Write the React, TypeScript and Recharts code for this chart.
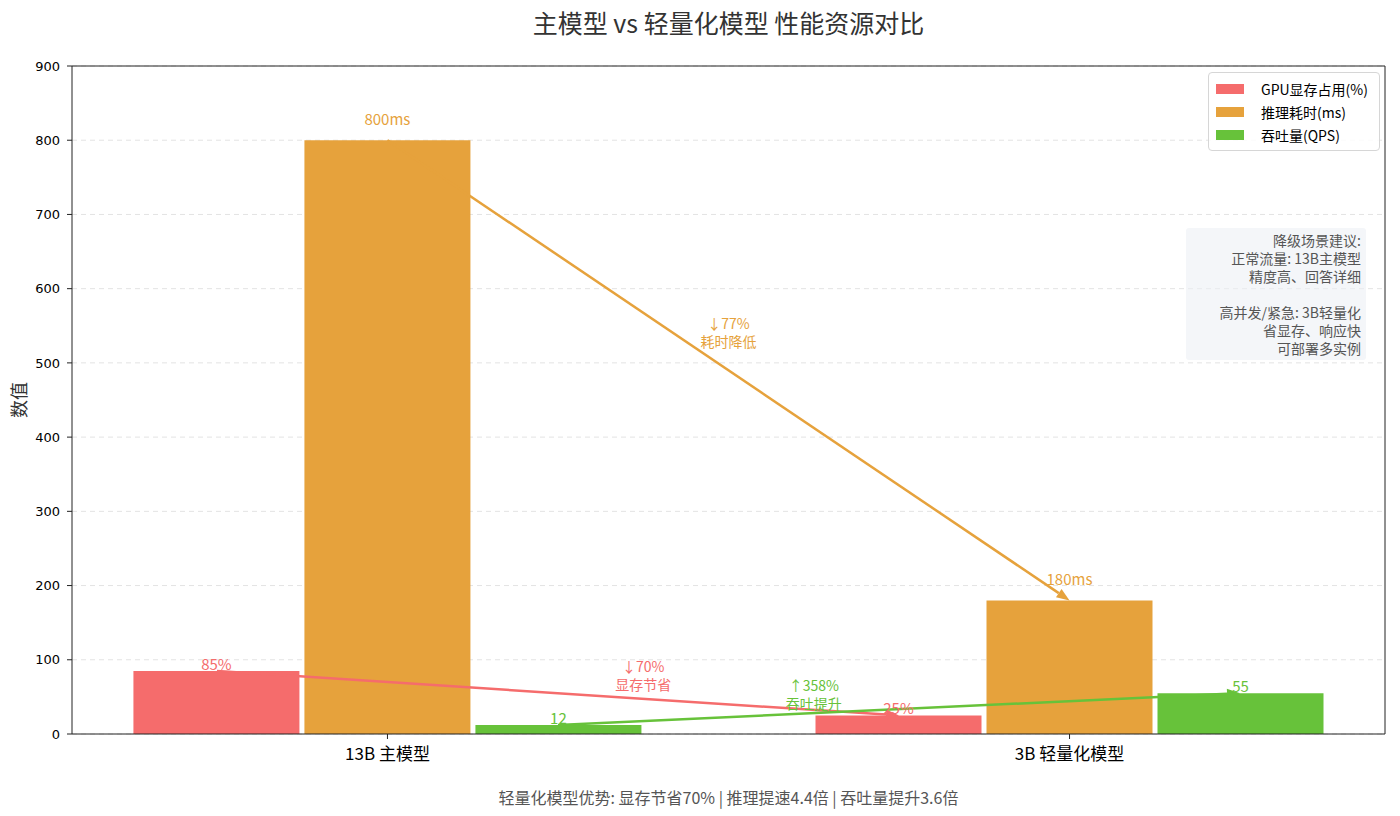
import { ComposedChart, Bar, XAxis, YAxis, CartesianGrid, ReferenceLine, ReferenceDot, LabelList } from 'recharts';

// 数据
const models = ['13B 主模型', '3B 轻量化模型'];
const gpuMem = [85, 25];
const latency = [800, 180];
const qps = [12, 55];
const gpuLabels = ['85%', '25%'];
const latencyLabels = ['800ms', '180ms'];
const qpsLabels = ['12', '55'];
const seriesNames = ['GPU显存占用(%)', '推理耗时(ms)', '吞吐量(QPS)'];
const yTicks = [0, 100, 200, 300, 400, 500, 600, 700, 800, 900];

const arrowNotes = [
  { lines: ['↓70%', '显存节省'], x: 0.375, y: 78, series: 0 },
  { lines: ['↓77%', '耗时降低'], x: 0.5, y: 540, series: 1 },
  { lines: ['↑358%', '吞吐提升'], x: 0.625, y: 52, series: 2 },
];

const adviceLines = ['降级场景建议:', '正常流量: 13B主模型', '精度高、回答详细', '', '高并发/紧急: 3B轻量化', '省显存、响应快', '可部署多实例'];
const title = '主模型 vs 轻量化模型 性能资源对比';
const footNote = '轻量化模型优势: 显存节省70% | 推理提速4.4倍 | 吞吐量提升3.6倍';

const COLORS = ['#f56c6c', '#e6a23c', '#67c23a'];
const FONT = "'Noto Sans CJK SC', sans-serif";
const BAR_W = 0.25; // 每根柱在 x 轴上的宽度（数据单位）
const X_DOMAIN = [-0.4625, 1.4625];

const data = models.map((name, i) => ({
  x: i,
  name,
  gpu: gpuMem[i],
  latency: latency[i],
  qps: qps[i],
}));

const valueLabel = (labels: string[], color: string, lift: number) => (props: any) => {
  const { x, y, width, index } = props;
  return (
    <text x={x + width / 2} y={y - lift} textAnchor="middle" fill={color} fontSize={15} fontFamily={FONT}>
      {labels[index]}
    </text>
  );
};

const arrowShape = (color: string) => (props: any) => {
  const { x1, y1, x2, y2 } = props;
  const ang = Math.atan2(y2 - y1, x2 - x1);
  const c = Math.cos(ang);
  const s = Math.sin(ang);
  const L = 13;
  const W = 5;
  const bx = x2 - L * c;
  const by = y2 - L * s;
  return (
    <g>
      <line x1={x1} y1={y1} x2={bx} y2={by} stroke={color} strokeWidth={2.5} />
      <polygon points={`${x2},${y2} ${bx - W * s},${by + W * c} ${bx + W * s},${by - W * c}`} fill={color} />
    </g>
  );
};

const noteShape = (lines: string[], color: string) => (props: any) => {
  const { cx, cy } = props;
  return (
    <g>
      {lines.map((l, i) => (
        <text key={i} x={cx} y={cy - 4 + i * 18} textAnchor="middle" fill={color} fontSize={14} fontFamily={FONT}>
          {l}
        </text>
      ))}
    </g>
  );
};

export default function App() {
  return (
    <div style={{ position: 'absolute', left: 0, top: 0, width: 1400, height: 816, background: '#fff', fontFamily: FONT }}>
      <div style={{ position: 'absolute', left: 72, width: 1313, top: 4, textAlign: 'center', fontSize: 25, color: '#333' }}>
        {title}
      </div>

      <ComposedChart width={1400} height={816} data={data} barGap={5} margin={{ top: 66, right: 15, bottom: 42, left: 12 }}>
        <CartesianGrid vertical={false} stroke="#e3e3e3" strokeDasharray="5 4" />
        <XAxis
          dataKey="x"
          type="number"
          domain={X_DOMAIN}
          ticks={[0, 1]}
          tickFormatter={(v: number) => models[v]}
          height={40}
          tickSize={5}
          tickMargin={9}
          stroke="#222"
          tick={{ fill: '#000', fontSize: 17, fontFamily: FONT }}
          allowDataOverflow
        />
        <YAxis
          domain={[0, 900]}
          ticks={yTicks}
          width={60}
          tickSize={5}
          tickMargin={7}
          stroke="#222"
          tick={{ fill: '#000', fontSize: 13, fontFamily: "'DejaVu Sans', sans-serif" }}
          label={{ value: '数值', angle: -90, position: 'insideLeft', offset: 8, style: { fill: '#333', fontSize: 18, fontFamily: FONT, textAnchor: 'middle' } }}
        />
        <ReferenceLine y={900} stroke="#222" />
        <ReferenceLine x={X_DOMAIN[1]} stroke="#222" />

        <Bar dataKey="gpu" fill={COLORS[0]} barSize={166} isAnimationActive={false}>
          <LabelList dataKey="gpu" content={valueLabel(gpuLabels, COLORS[0], 1)} />
        </Bar>
        <Bar dataKey="latency" fill={COLORS[1]} barSize={166} isAnimationActive={false}>
          <LabelList dataKey="latency" content={valueLabel(latencyLabels, COLORS[1], 15)} />
        </Bar>
        <Bar dataKey="qps" fill={COLORS[2]} barSize={166} isAnimationActive={false}>
          <LabelList dataKey="qps" content={valueLabel(qpsLabels, COLORS[2], 1)} />
        </Bar>

        <ReferenceLine
          segment={[{ x: 0 - BAR_W, y: gpuMem[0] }, { x: 1 - BAR_W, y: gpuMem[1] }]}
          ifOverflow="visible"
          shape={arrowShape(COLORS[0])}
        />
        <ReferenceLine
          segment={[{ x: 0, y: latency[0] }, { x: 1, y: latency[1] }]}
          ifOverflow="visible"
          shape={arrowShape(COLORS[1])}
        />
        <ReferenceLine
          segment={[{ x: 0 + BAR_W, y: qps[0] }, { x: 1 + BAR_W, y: qps[1] }]}
          ifOverflow="visible"
          shape={arrowShape(COLORS[2])}
        />
        {arrowNotes.map((n, i) => (
          <ReferenceDot key={i} x={n.x} y={n.y} r={0} ifOverflow="visible" shape={noteShape(n.lines, COLORS[n.series])} />
        ))}
      </ComposedChart>

      {/* 图例 */}
      <div
        style={{
          position: 'absolute', left: 1208, top: 72, width: 170, padding: '4px 0 4px 0',
          border: '1px solid #d6d6d6', borderRadius: 4, background: 'rgba(255,255,255,0.85)',
        }}
      >
        {seriesNames.map((n, i) => (
          <div key={n} style={{ display: 'flex', alignItems: 'center', height: 23, fontSize: 14, color: '#000' }}>
            <span style={{ display: 'inline-block', width: 28, height: 10, background: COLORS[i], marginLeft: 7, marginRight: 17 }} />
            {n}
          </div>
        ))}
      </div>

      {/* 降级建议 */}
      <div
        style={{
          position: 'absolute', left: 1186, top: 228, width: 170, padding: '3px 5px',
          background: 'rgba(236,240,245,0.6)', borderRadius: 3, textAlign: 'right',
          fontSize: 14, lineHeight: '18px', color: '#555',
        }}
      >
        {adviceLines.map((l, i) => (
          <div key={i} style={{ height: 18 }}>{l}</div>
        ))}
      </div>

      <div style={{ position: 'absolute', left: 72, width: 1313, top: 785, textAlign: 'center', fontSize: 16, color: '#555' }}>
        {footNote}
      </div>
    </div>
  );
}
